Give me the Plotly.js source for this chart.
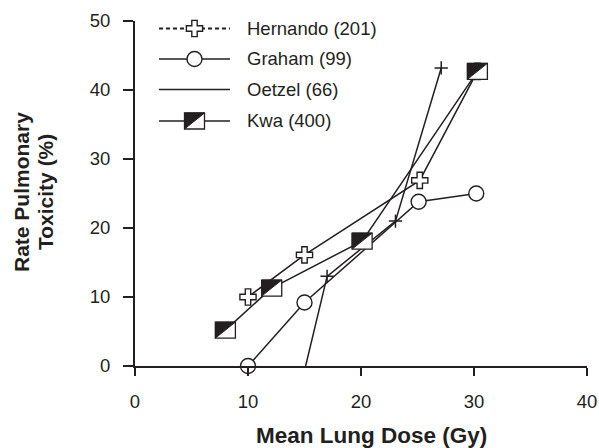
<!DOCTYPE html>
<html><head><meta charset="utf-8">
<script src="https://cdn.plot.ly/plotly-3.0.1.min.js"></script>
<style>html,body{margin:0;padding:0;background:#fff}#chart{width:599px;height:448px}</style>
</head><body><div id="chart"></div>
<script>
// ---- data ----
const seriesNames = ['Hernando (201)', 'Graham (99)', 'Oetzel (66)', 'Kwa (400)'];
const hernandoDose = [10.0, 15.0, 25.2, 30.3];
const hernandoRate = [10.0, 16.1, 26.9, 42.7];
const grahamDose   = [10.0, 15.0, 25.1, 30.2];
const grahamRate   = [0.0, 9.2, 23.8, 25.0];
const oetzelDose   = [15.1, 17.0, 23.05, 27.1];
const oetzelRate   = [0.0, 13.0, 21.0, 43.2];
const kwaDose      = [8.0, 12.1, 20.1, 30.3];
const kwaRate      = [5.2, 11.3, 18.1, 42.7];
const xTicks = [0, 10, 20, 30, 40];
const yTicks = [0, 10, 20, 30, 40, 50];
const xTitle = 'Mean Lung Dose (Gy)';
const yTitleLines = ['Rate Pulmonary', 'Toxicity (%)'];

// ---- styling ----
const FONT = 'Liberation Sans, Arial, Helvetica, sans-serif';
const INK = '#231f20';
const W = 599, H = 448, L = 135, R = 12, T = 21, B = 82;
const pw = W - L - R, ph = H - T - B;
const px2x = px => (px - L) / pw;
const py2y = py => (H - B - py) / ph;

const lineStyle = {color: INK, width: 1.5};
const traces = [];
const allSeries = [[hernandoDose, hernandoRate], [grahamDose, grahamRate], [oetzelDose, oetzelRate], [kwaDose, kwaRate]];
allSeries.forEach((s, i) => traces.push({
  x: s[0], y: s[1], type: 'scatter', mode: 'lines', name: seriesNames[i],
  line: lineStyle, showlegend: false, cliponaxis: false, hoverinfo: 'skip'
}));
traces.push({x: grahamDose, y: grahamRate, type: 'scatter', mode: 'markers', showlegend: false, cliponaxis: false,
  marker: {symbol: 'circle', size: 15, color: '#fff', line: {color: INK, width: 1.4}}});
traces.push({x: hernandoDose, y: hernandoRate, type: 'scatter', mode: 'markers', showlegend: false, cliponaxis: false,
  marker: {symbol: 'cross', size: 13.5, color: '#fff', line: {color: INK, width: 1.4}}});
// the Oetzel curve starts on the axis without a visible marker
traces.push({x: oetzelDose.slice(1), y: oetzelRate.slice(1), type: 'scatter', mode: 'markers', showlegend: false, cliponaxis: false,
  marker: {symbol: 'cross-thin', size: 9.5, color: INK, line: {color: INK, width: 1.5}}});

// half-filled rectangle marker for Kwa, drawn as pixel-sized shapes anchored on data
const RW = 10, RH = 8;
const rectPath = `M${-RW},${-RH}L${RW},${-RH}L${RW},${RH}L${-RW},${RH}Z`;
const triPath = `M${-RW},${RH}L${RW},${RH}L${-RW},${-RH}Z`;
function kwaGlyph(xa, ya, xref, yref) {
  const base = {type: 'path', xsizemode: 'pixel', ysizemode: 'pixel', xanchor: xa, yanchor: ya, xref: xref, yref: yref, layer: 'above'};
  return [
    Object.assign({}, base, {path: rectPath, fillcolor: '#fff', line: {color: INK, width: 1.3}}),
    Object.assign({}, base, {path: triPath, fillcolor: INK, line: {color: INK, width: 1}})
  ];
}
const shapes = [];
kwaDose.forEach((d, i) => shapes.push(...kwaGlyph(d, kwaRate[i], 'x', 'y')));

// ---- legend drawn manually ----
const legRows = [28.5, 59, 89.5, 121];
const legX0 = px2x(159), legX1 = px2x(230), legXm = px2x(194.5), legText = px2x(247);
const annotations = [];
legRows.forEach((py, i) => {
  const y = py2y(py);
  shapes.push({type: 'line', xref: 'paper', yref: 'paper', x0: legX0, x1: legX1, y0: y, y1: y,
    line: i === 0 ? {color: INK, width: 2, dash: '4px,3px'} : {color: INK, width: 1.5}});
  annotations.push({xref: 'paper', yref: 'paper', x: legText, y: y, xanchor: 'left', yanchor: 'middle', showarrow: false,
    text: seriesNames[i], font: {family: FONT, size: 18.5, color: INK}, borderpad: 0, borderwidth: 0});
});
// Hernando legend cross
const c = 8.1, a = 2.7;
shapes.push({type: 'path', xref: 'paper', yref: 'paper', xsizemode: 'pixel', ysizemode: 'pixel', xanchor: legXm, yanchor: py2y(legRows[0]),
  path: `M${a},${a}H${c}V${-a}H${a}V${-c}H${-a}V${-a}H${-c}V${a}H${-a}V${c}H${a}Z`, fillcolor: '#fff', line: {color: INK, width: 1.4}});
// Graham legend circle
shapes.push({type: 'circle', xref: 'paper', yref: 'paper', xsizemode: 'pixel', ysizemode: 'pixel', xanchor: legXm, yanchor: py2y(legRows[1]),
  x0: -7.5, x1: 7.5, y0: -7.5, y1: 7.5, fillcolor: '#fff', line: {color: INK, width: 1.4}});
// Kwa legend glyph
shapes.push(...kwaGlyph(legXm, py2y(legRows[3]), 'paper', 'paper'));

// ---- axis titles ----
annotations.push({xref: 'paper', yref: 'paper', x: px2x(371.7), y: py2y(435), xanchor: 'center', yanchor: 'middle', showarrow: false,
  text: '<b>' + xTitle + '</b>', font: {family: FONT, size: 22.5, color: INK}});
[21, 45].forEach((px, i) => annotations.push({xref: 'paper', yref: 'paper', x: px2x(px), y: py2y(192), xanchor: 'center', yanchor: 'middle',
  showarrow: false, textangle: -90, text: '<b>' + yTitleLines[i] + '</b>', font: {family: FONT, size: 21, color: INK}}));

const axisCommon = {ticks: 'outside', tickwidth: 2, tickcolor: INK, showline: true, linewidth: 2, linecolor: INK,
  showgrid: false, zeroline: false, tickfont: {family: FONT, size: 18.5, color: INK}, fixedrange: true};

const layout = {
  width: W, height: H, margin: {l: L, r: R, t: T, b: B, pad: 0},
  paper_bgcolor: '#fff', plot_bgcolor: '#fff', showlegend: false,
  xaxis: Object.assign({}, axisCommon, {range: [0, 40], tickvals: xTicks, ticktext: xTicks.map(String), ticklen: 8, ticklabelstandoff: 10}),
  yaxis: Object.assign({}, axisCommon, {range: [0, 50], tickvals: yTicks, ticktext: yTicks.map(String), ticklen: 10, ticklabelstandoff: 9}),
  shapes: shapes, annotations: annotations
};
Plotly.newPlot('chart', traces, layout, {displayModeBar: false, staticPlot: true});
</script></body></html>
